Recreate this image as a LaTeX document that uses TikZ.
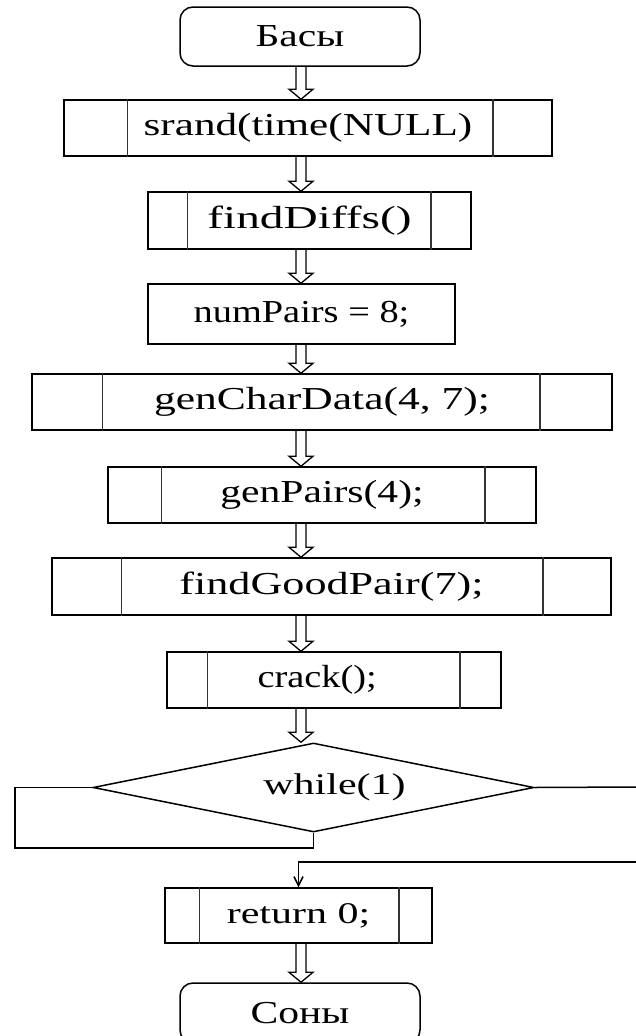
\documentclass[tikz,border=0pt]{standalone}
\usepackage{fontspec}
\setmainfont{Liberation Serif}
\usetikzlibrary{calc,shapes.geometric,arrows.meta}
\newcommand\tx[2]{\scalebox{#1}[1]{#2}}
\tikzset{
  box/.style={draw, line width=1.5pt, inner sep=0pt, font=\fontsize{32}{38}\selectfont},
  term/.style={box, rounded corners=13pt},
  inln/.style={line width=1.5pt, draw=black!80},
  harr/.style={line width=1.3pt, line join=miter},
  ln/.style={line width=1.5pt},
}
\newcommand\harrow[2]{%
  \draw[harr] ($(#1.south -| axis)+(-5,0)$) -- ($(#2.north -| axis)+(-5,-10)$) -- ++(-7,0)
    -- (#2.north -| axis) -- ++(12,-10) -- ++(-7,0) -- ($(#1.south -| axis)+(5,0)$);}
\newcommand\subr[3]{%
  \draw[inln] ([xshift=#2pt]#1.north west) -- ([xshift=#2pt]#1.south west);
  \draw[inln] ([xshift=-#3pt]#1.north east) -- ([xshift=-#3pt]#1.south east);}
\begin{document}
\begin{tikzpicture}[x=1pt,y=-1pt]
\useasboundingbox[fill=white] (0,0) rectangle (635,1036);
\coordinate (axis) at (301,0);
\node[term, minimum width=240pt, minimum height=59pt] (start) at (300,36.5) {\tx{1.3}{Басы}};
\node[box, minimum width=488pt, minimum height=56pt] (srand) at (308,128) {\tx{1.35}{srand(time(NULL)}};
\node[box, minimum width=323pt, minimum height=57pt] (diffs) at (309.5,220.5) {\tx{1.48}{findDiffs()}};
\node[box, minimum width=307pt, minimum height=60pt] (nump) at (301.5,314) {\tx{1.2}{numPairs = 8;}};
\node[box, minimum width=580pt, minimum height=56pt] (gcd) at (322,402) {\tx{1.36}{genCharData(4, 7);}};
\node[box, minimum width=428pt, minimum height=56pt] (gp) at (322,495) {\tx{1.3}{genPairs(4);}};
\node[box, minimum width=559pt, minimum height=57pt] (fgp) at (331.5,586.5) {\tx{1.38}{findGoodPair(7);}};
\node[box, minimum width=334pt, minimum height=56pt] (crack) at (334,680) {\tx{1.2}{crack();\hspace*{28pt}}};
\node[draw, line width=1.5pt, shape=diamond, aspect=4.96, inner sep=0pt, minimum width=441pt, minimum height=89pt,
      font=\fontsize{30}{36}\selectfont] (wh) at (313.5,787.5) {\tx{1.4}{\hspace*{30pt}while(1)}};
\node[box, minimum width=267pt, minimum height=55pt] (ret) at (298.5,915.5) {\tx{1.4}{\fontsize{30}{36}\selectfont return 0;}};
\node[term, minimum width=240pt, minimum height=60pt] (fin) at (300,1013) {\tx{1.3}{Соны}};
\subr{srand}{64}{60}
\subr{diffs}{40}{41}
\subr{gcd}{71}{73}
\subr{gp}{54}{52}
\subr{fgp}{70}{69}
\subr{crack}{41}{42}
\subr{ret}{35}{34}
\harrow{start}{srand}
\harrow{srand}{diffs}
\harrow{diffs}{nump}
\harrow{nump}{gcd}
\harrow{gcd}{gp}
\harrow{gp}{fgp}
\harrow{fgp}{crack}
\harrow{crack}{wh}
\harrow{ret}{fin}
\coordinate (lw) at (15,848);
\coordinate (re) at (636,787);
\coordinate (rr) at (636,862);
\draw[ln] (wh.west) -| (lw) -| (wh.south);
\draw[ln] (wh.east) -- (re);
\draw[ln, -{Straight Barb[length=9pt,width=9pt]}] (rr) -| (ret.north);
\end{tikzpicture}
\end{document}
